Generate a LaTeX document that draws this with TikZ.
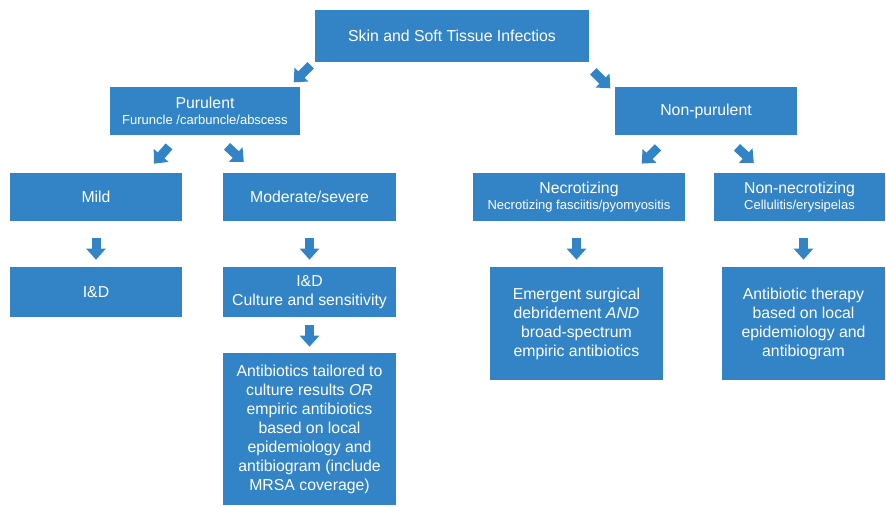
\documentclass[tikz,border=0pt]{standalone}
\usepackage{fontspec}
\setmainfont{Liberation Sans}
\usetikzlibrary{arrows.meta,positioning}
\definecolor{boxblue}{RGB}{50,132,198}
\newcommand{\subfont}{\fontsize{7.4}{9.4}\selectfont}

\begin{document}
\begin{tikzpicture}[
    box/.style={fill=boxblue, text=white, align=center, inner sep=0pt, font=\fontsize{9}{10.8}\selectfont},
    blk/.style={-{Triangle[width=0.38cm,length=0.22cm]}, line width=0.18cm, boxblue}
]
\useasboundingbox (0,0) rectangle (17.72,-10.12);

\node[box, minimum width=5.48cm, minimum height=1.04cm] (top) at (9.04,-0.72) {Skin and Soft Tissue Infectios};
\node[box, minimum width=3.8cm, minimum height=0.96cm] (pur) at (4.10,-2.22) {Purulent\\[-1.6pt]{\subfont Furuncle /carbuncle/abscess}};
\node[box, minimum width=3.64cm, minimum height=0.96cm] (npur) at (14.12,-2.22) {Non-purulent};

\node[box, minimum width=3.44cm, minimum height=0.96cm] (mild) at (1.92,-3.94) {Mild};
\node[box, minimum width=3.46cm, minimum height=0.96cm] (mod) at (6.19,-3.94) {Moderate/severe};
\node[box, minimum width=4.24cm, minimum height=0.96cm] (nec) at (11.58,-3.94) {Necrotizing\\[-1.6pt]{\subfont Necrotizing fasciitis/pyomyositis}};
\node[box, minimum width=3.42cm, minimum height=0.96cm] (nnec) at (15.99,-3.94) {Non-necrotizing\\[-1.6pt]{\subfont Cellulitis/erysipelas}};

\node[box, minimum width=3.44cm, minimum height=1.0cm] (idA) at (1.92,-5.84) {I\&D};
\node[box, minimum width=3.46cm, minimum height=1.0cm] (idB) at (6.19,-5.84) {I\&D\\Culture and sensitivity};
\node[box, minimum width=3.46cm, minimum height=2.26cm] (emer) at (11.53,-6.47) {Emergent surgical\\debridement \emph{AND}\\broad-spectrum\\empiric antibiotics};
\node[box, minimum width=3.26cm, minimum height=2.26cm] (abx) at (16.07,-6.47) {Antibiotic therapy\\based on local\\epidemiology and\\antibiogram};
\node[box, minimum width=3.46cm, minimum height=3.04cm] (tail) at (6.19,-8.58) {Antibiotics tailored to\\culture results \emph{OR}\\empiric antibiotics\\based on local\\epidemiology and\\antibiogram (include\\MRSA coverage)};

% diagonal block arrows
\draw[blk] ([shift={(-0.08,-0.06)}]top.south west) -- ++(225:0.48);
\draw[blk] ([shift={(0.08,-0.18)}]top.south east) -- ++(-45:0.48);
\draw[blk] ([shift={(-0.72,-0.22)}]pur.south) -- ++(229:0.46);
\draw[blk] ([shift={(0.44,-0.22)}]pur.south) -- ++(-43:0.46);
\draw[blk] ([shift={(-0.96,-0.24)}]npur.south) -- ++(225:0.46);
\draw[blk] ([shift={(0.62,-0.24)}]npur.south) -- ++(-43:0.46);

% vertical block arrows
\draw[blk, shorten <=0.34cm, shorten >=0.14cm] (mild.south) -- (idA.north);
\draw[blk, shorten <=0.34cm, shorten >=0.14cm] (mod.south) -- (idB.north);
\draw[blk, shorten <=0.34cm, shorten >=0.14cm] (nec.south -| emer) -- (emer.north);
\draw[blk, shorten <=0.34cm, shorten >=0.14cm] (nnec.south -| abx) -- (abx.north);
\draw[blk, shorten <=0.16cm, shorten >=0.12cm] (idB.south) -- (tail.north);
\end{tikzpicture}
\end{document}
